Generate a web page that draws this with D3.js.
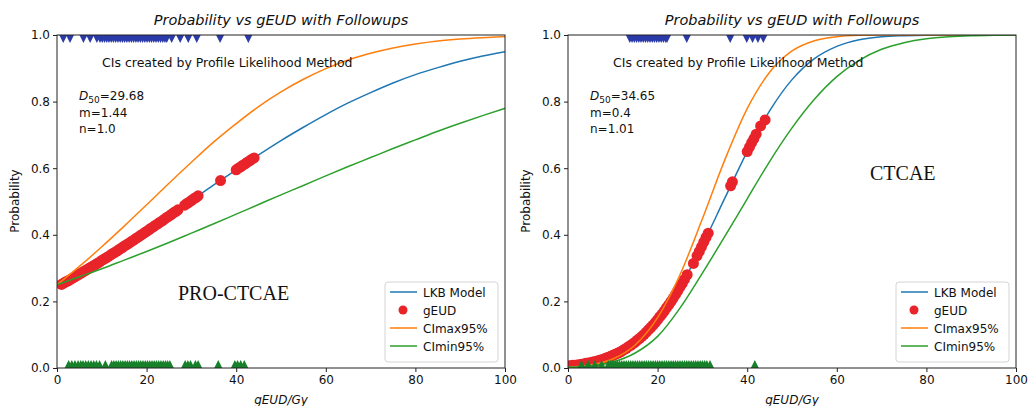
<!DOCTYPE html>
<html>
<head>
<meta charset="utf-8">
<script src="https://cdn.jsdelivr.net/npm/d3@7"></script>
<style>
  body { margin: 0; background: #fff; }
  svg text { font-family: "DejaVu Sans", sans-serif; fill: #111; }
</style>
</head>
<body>
<div id="chart"></div>
<script>
// ticks
const xTicks = [0, 20, 40, 60, 80, 100];
const yTicks = [0, 0.2, 0.4, 0.6, 0.8, 1.0];
const legendLabels = ["LKB Model", "gEUD", "CImax95%", "CImin95%"];

// dose grid the curves were read at
const doseGrid = [0, 5, 10, 15, 20, 25, 30, 35, 40, 45, 50, 55, 60, 65, 70, 75, 80, 85, 90, 95, 100];

// left panel (PRO-CTCAE)
const leftLkb = [0.244, 0.282, 0.323, 0.366, 0.410, 0.456, 0.503, 0.550, 0.595, 0.640, 0.683, 0.723, 0.761, 0.796, 0.827, 0.856, 0.881, 0.902, 0.921, 0.937, 0.950];
const leftCiMax = [0.250, 0.305, 0.364, 0.426, 0.490, 0.555, 0.618, 0.679, 0.734, 0.785, 0.829, 0.867, 0.899, 0.925, 0.945, 0.961, 0.973, 0.982, 0.988, 0.992, 0.995];
const leftCiMin = [0.250, 0.274, 0.298, 0.324, 0.350, 0.377, 0.405, 0.433, 0.462, 0.491, 0.520, 0.548, 0.577, 0.605, 0.632, 0.659, 0.685, 0.711, 0.735, 0.758, 0.780];
const leftDotDose = [1, 1.5, 2, 2.5, 3, 3.5, 4, 4.5, 5, 5.5, 6, 6.5, 7, 7.5, 8, 8.5, 9, 9.5, 10, 10.5, 11, 11.5, 12, 12.5, 13, 13.5, 14, 14.5, 15, 15.5, 16, 16.5, 17, 17.5, 18, 18.5, 19, 19.5, 20, 20.5, 21, 21.5, 22, 22.5, 23, 23.5, 24, 24.5, 25, 25.5, 26, 26.5, 27, 28.5, 29, 29.5, 30, 30.5, 31, 31.5, 36.5, 40, 40.5, 41, 41.5, 42, 42.5, 43, 43.5, 44];
const leftDotProb = [0.251, 0.255, 0.259, 0.262, 0.266, 0.270, 0.274, 0.278, 0.282, 0.286, 0.290, 0.294, 0.298, 0.302, 0.306, 0.310, 0.314, 0.318, 0.323, 0.327, 0.331, 0.335, 0.340, 0.344, 0.348, 0.352, 0.357, 0.361, 0.366, 0.370, 0.374, 0.379, 0.383, 0.388, 0.392, 0.397, 0.401, 0.406, 0.410, 0.415, 0.420, 0.424, 0.429, 0.433, 0.438, 0.442, 0.447, 0.452, 0.456, 0.461, 0.466, 0.470, 0.475, 0.489, 0.494, 0.498, 0.503, 0.508, 0.512, 0.517, 0.563, 0.595, 0.600, 0.604, 0.609, 0.613, 0.618, 0.622, 0.627, 0.631];
const leftEventDose = [1.4, 2.9, 5.9, 7.4, 8.9, 9.6, 10.1, 10.6, 11.1, 11.6, 12.1, 12.6, 13.1, 13.6, 14.1, 14.6, 15.1, 15.6, 16.1, 16.6, 17.1, 17.6, 18.1, 18.6, 19.1, 19.6, 20.1, 20.6, 21.1, 21.6, 22.1, 22.6, 23.1, 23.6, 24.1, 24.5, 25.6, 27.5, 29.3, 31.2, 36.4, 42.7];
const leftNoEventDose = [2.6, 3.3, 4.0, 4.7, 5.3, 5.8, 6.4, 7.0, 7.6, 8.2, 8.8, 9.5, 10.8, 12.2, 12.7, 13.2, 13.7, 14.2, 14.7, 15.2, 15.7, 16.2, 16.7, 17.2, 17.7, 18.2, 18.7, 19.2, 19.7, 20.2, 20.7, 21.2, 21.7, 22.2, 22.7, 23.2, 23.7, 24.2, 24.7, 25.2, 28.6, 29.2, 29.8, 30.9, 31.5, 36.0, 39.7, 40.3, 41.0, 41.8];

// right panel (CTCAE)
const rightLkb = [0.006, 0.016, 0.038, 0.078, 0.145, 0.243, 0.369, 0.510, 0.650, 0.772, 0.866, 0.929, 0.966, 0.986, 0.995, 0.998, 0.9995, 1, 1, 1, 1];
const rightCiMax = [0.002, 0.009, 0.027, 0.069, 0.151, 0.280, 0.448, 0.625, 0.779, 0.888, 0.952, 0.983, 0.995, 0.999, 1, 1, 1, 1, 1, 1, 1];
const rightCiMin = [0.002, 0.006, 0.018, 0.045, 0.095, 0.180, 0.285, 0.395, 0.508, 0.620, 0.721, 0.807, 0.875, 0.924, 0.957, 0.977, 0.989, 0.995, 0.998, 0.999, 1];
const rightDotDose = [0, 0.5, 1, 1.5, 2, 2.5, 3, 3.5, 4, 4.5, 5, 5.5, 6, 6.5, 7, 7.5, 8, 8.5, 9, 9.5, 10, 10.5, 11, 11.5, 12, 12.5, 13, 13.5, 14, 14.5, 15, 15.5, 16, 16.5, 17, 17.5, 18, 18.5, 19, 19.5, 20, 20.5, 21, 21.5, 22, 22.5, 23, 23.5, 24, 24.5, 25, 25.5, 26, 26.6, 28, 28.8, 29.3, 29.8, 30.3, 30.8, 31.3, 36.3, 36.7, 40, 40.5, 41, 41.5, 42, 43, 44];
const rightDotProb = [0.006, 0.007, 0.008, 0.008, 0.009, 0.010, 0.011, 0.012, 0.014, 0.015, 0.016, 0.018, 0.019, 0.021, 0.023, 0.025, 0.027, 0.030, 0.032, 0.035, 0.038, 0.041, 0.044, 0.047, 0.051, 0.055, 0.059, 0.064, 0.068, 0.073, 0.078, 0.084, 0.089, 0.095, 0.101, 0.108, 0.115, 0.122, 0.129, 0.137, 0.145, 0.154, 0.162, 0.171, 0.181, 0.190, 0.200, 0.210, 0.221, 0.232, 0.243, 0.254, 0.266, 0.280, 0.314, 0.337, 0.350, 0.364, 0.378, 0.392, 0.405, 0.547, 0.559, 0.650, 0.663, 0.677, 0.689, 0.702, 0.727, 0.745];
const rightEventDose = [13.8, 14.3, 14.8, 15.3, 15.8, 16.3, 16.8, 17.3, 17.8, 18.3, 18.8, 19.3, 19.8, 20.3, 20.8, 21.3, 21.8, 22.1, 26.5, 36.2, 39.9, 41.2, 42.4, 43.6];
const rightNoEventDose = [3, 4.5, 6, 7.5, 9, 9.5, 10, 10.5, 11, 11.5, 12, 12.5, 13, 13.5, 14, 14.5, 15, 15.5, 16, 16.5, 17, 17.5, 18, 18.5, 19, 19.5, 20, 20.5, 21, 21.5, 22, 22.5, 23, 23.5, 24, 24.5, 25, 25.5, 26, 26.5, 27, 27.5, 28, 28.5, 29, 29.5, 30, 30.5, 31, 31.7, 41.7];

const COLORS = {lkb: "#1f77b4", max: "#ff7f0e", min: "#2ca02c", dot: "#e8242a", event: "#2a3aa8", noEvent: "#17802a"};

const svg = d3.select("#chart")
  .append("svg")
  .attr("width", 1029)
  .attr("height", 406);

function drawPanel(p) {
  const x = d3.scaleLinear().domain([0, 100]).range([p.left, p.right]);
  const y = d3.scaleLinear().domain([0, 1]).range([368, 35]);
  const g = svg.append("g");

  g.append("clipPath").attr("id", p.id + "-clip")
    .append("rect")
    .attr("x", p.left).attr("y", 35)
    .attr("width", p.right - p.left).attr("height", 333);

  const plot = g.append("g").attr("clip-path", "url(#" + p.id + "-clip)");

  const line = d3.line()
    .x((d, i) => x(doseGrid[i]))
    .y(d => y(d))
    .curve(d3.curveMonotoneX);

  plot.append("path").datum(p.lkb)
    .attr("d", line).attr("fill", "none")
    .attr("stroke", COLORS.lkb).attr("stroke-width", 1.5);

  plot.selectAll(".dot")
    .data(p.dotDose)
    .enter()
    .append("circle")
      .attr("cx", d => x(d))
      .attr("cy", (d, i) => y(p.dotProb[i]))
      .attr("r", 5.5)
      .attr("fill", COLORS.dot);

  plot.append("path").datum(p.ciMax)
    .attr("d", line).attr("fill", "none")
    .attr("stroke", COLORS.max).attr("stroke-width", 1.5);

  plot.append("path").datum(p.ciMin)
    .attr("d", line).attr("fill", "none")
    .attr("stroke", COLORS.min).attr("stroke-width", 1.5);

  // followup markers, half cut off by the frame like matplotlib does
  const s = 8;
  plot.selectAll(".ev")
    .data(p.eventDose)
    .enter()
    .append("path")
      .attr("d", d => `M${x(d) - s},${y(1) - s}L${x(d) + s},${y(1) - s}L${x(d)},${y(1) + s}Z`)
      .attr("fill", COLORS.event);

  plot.selectAll(".nev")
    .data(p.noEventDose)
    .enter()
    .append("path")
      .attr("d", d => `M${x(d) - s},${y(0) + s}L${x(d) + s},${y(0) + s}L${x(d)},${y(0) - s}Z`)
      .attr("fill", COLORS.noEvent);

  // axes
  const xAxis = d3.axisBottom(x).tickValues(xTicks).tickSize(4).tickPadding(3).tickFormat(d3.format("d"));
  const yAxis = d3.axisLeft(y).tickValues(yTicks).tickSize(4).tickPadding(3).tickFormat(d3.format(".1f"));

  const gx = g.append("g").attr("transform", "translate(0,368)").call(xAxis);
  const gy = g.append("g").attr("transform", "translate(" + p.left + ",0)").call(yAxis);
  [gx, gy].forEach(a => {
    a.select(".domain").remove();
    a.selectAll("text").style("font-size", "12px").style("font-family", "DejaVu Sans").attr("fill", "#222");
    a.selectAll("line").attr("stroke", "#222");
  });

  g.append("rect")
    .attr("x", p.left).attr("y", 35)
    .attr("width", p.right - p.left).attr("height", 333)
    .attr("fill", "none").attr("stroke", "#222").attr("stroke-width", 1);

  const cx = (p.left + p.right) / 2;
  g.append("text").attr("x", cx).attr("y", 25)
    .attr("text-anchor", "middle").style("font-size", "14.5px").style("font-style", "italic")
    .text("Probability vs gEUD with Followups");

  g.append("text").attr("x", cx).attr("y", 404)
    .attr("text-anchor", "middle").style("font-size", "12px").style("font-style", "italic")
    .text("gEUD/Gy");

  g.append("text")
    .attr("transform", "translate(" + (p.left - 38) + ",201) rotate(-90)")
    .attr("text-anchor", "middle").style("font-size", "12px")
    .text("Probability");

  // annotations
  g.append("text").attr("x", p.left + p.noteDx).attr("y", 67)
    .style("font-size", "12.5px")
    .text("CIs created by Profile Likelihood Method");

  const d50 = g.append("text").attr("x", p.left + p.paramDx).attr("y", 100).style("font-size", "12px");
  d50.append("tspan").style("font-style", "italic").text("D");
  d50.append("tspan").attr("dy", 3).style("font-size", "9px").text("50");
  d50.append("tspan").attr("dy", -3).text("=" + p.d50);
  g.append("text").attr("x", p.left + p.paramDx).attr("y", 117).style("font-size", "12px").text("m=" + p.m);
  g.append("text").attr("x", p.left + p.paramDx).attr("y", 133).style("font-size", "12px").text("n=" + p.n);

  g.append("text").attr("x", p.tagX).attr("y", p.tagY)
    .style("font-family", "Liberation Serif").style("font-size", "20px")
    .text(p.tag);

  // legend
  const lg = g.append("g").attr("transform", "translate(" + (p.right - 120) + ",282)");
  lg.append("rect").attr("width", 113).attr("height", 80).attr("rx", 3)
    .attr("fill", "#fff").attr("fill-opacity", 0.8).attr("stroke", "#d4d4d4");
  const keyColors = [COLORS.lkb, COLORS.dot, COLORS.max, COLORS.min];
  legendLabels.forEach((lab, i) => {
    const ly = 10 + i * 18;
    if (i === 1) {
      lg.append("circle").attr("cx", 18).attr("cy", ly).attr("r", 4.5).attr("fill", COLORS.dot);
    } else {
      lg.append("line").attr("x1", 5).attr("x2", 32).attr("y1", ly).attr("y2", ly)
        .attr("stroke", keyColors[i]).attr("stroke-width", 1.5);
    }
    lg.append("text").attr("x", 38).attr("y", ly + 4.5).style("font-size", "12px").text(lab);
  });
}

drawPanel({
  id: "left", left: 57, right: 505,
  lkb: leftLkb, ciMax: leftCiMax, ciMin: leftCiMin,
  dotDose: leftDotDose, dotProb: leftDotProb,
  eventDose: leftEventDose, noEventDose: leftNoEventDose,
  d50: "29.68", m: "1.44", n: "1.0",
  noteDx: 45, paramDx: 22,
  tag: "PRO-CTCAE", tagX: 178, tagY: 300
});

drawPanel({
  id: "right", left: 568, right: 1016,
  lkb: rightLkb, ciMax: rightCiMax, ciMin: rightCiMin,
  dotDose: rightDotDose, dotProb: rightDotProb,
  eventDose: rightEventDose, noEventDose: rightNoEventDose,
  d50: "34.65", m: "0.4", n: "1.01",
  noteDx: 45, paramDx: 22,
  tag: "CTCAE", tagX: 870, tagY: 180
});
</script>
</body>
</html>
